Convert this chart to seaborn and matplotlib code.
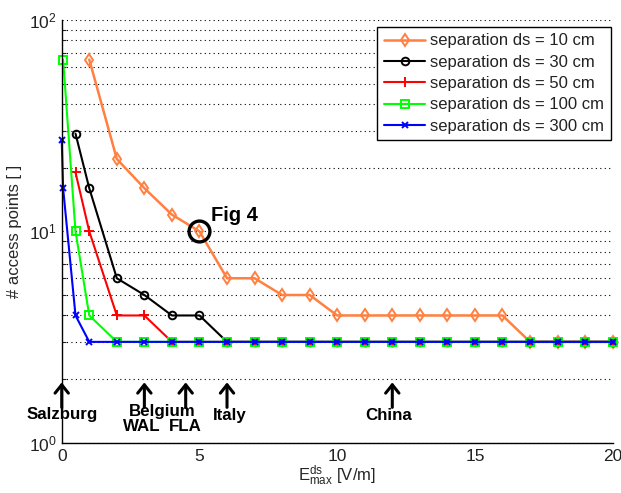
import matplotlib
matplotlib.use("Agg")
import matplotlib.pyplot as plt
import seaborn as sns
import numpy as np

# Maximum field strength E_max^ds [V/m] for each separation, and the
# number of access points needed to stay under that limit.
E_10 = [1, 2, 3, 4, 5, 6, 7, 8, 9, 10, 11, 12, 13, 14, 15, 16, 17, 18, 19, 20]
N_10 = [65, 22, 16, 12, 10, 6, 6, 5, 5, 4, 4, 4, 4, 4, 4, 4, 3, 3, 3, 3]

E_30 = [0.5, 1, 2, 3, 4, 5, 6, 7, 8, 9, 10, 11, 12, 13, 14, 15, 16, 17, 18, 19, 20]
N_30 = [29, 16, 6, 5, 4, 4, 3, 3, 3, 3, 3, 3, 3, 3, 3, 3, 3, 3, 3, 3, 3]

E_50 = [0.5, 1, 2, 3, 4, 5, 6, 7, 8, 9, 10, 11, 12, 13, 14, 15, 16, 17, 18, 19, 20]
N_50 = [19, 10, 4, 4, 3, 3, 3, 3, 3, 3, 3, 3, 3, 3, 3, 3, 3, 3, 3, 3, 3]

E_100 = [0.05, 0.5, 1, 2, 3, 4, 5, 6, 7, 8, 9, 10, 11, 12, 13, 14, 15, 16, 17, 18, 19, 20]
N_100 = [65, 10, 4, 3, 3, 3, 3, 3, 3, 3, 3, 3, 3, 3, 3, 3, 3, 3, 3, 3, 3, 3]

E_300 = [0.0, 0.05, 0.5, 1, 2, 3, 4, 5, 6, 7, 8, 9, 10, 11, 12, 13, 14, 15, 16, 17, 18, 19, 20]
N_300 = [27, 16, 4, 3, 3, 3, 3, 3, 3, 3, 3, 3, 3, 3, 3, 3, 3, 3, 3, 3, 3, 3, 3]

series_labels = ["separation ds = 10 cm", "separation ds = 30 cm",
                 "separation ds = 50 cm", "separation ds = 100 cm",
                 "separation ds = 300 cm"]

# Country limits marked under the curves
limit_x = [0, 3, 4.5, 6, 12]
country_labels = [("Salzburg", 0.0, 1.36), ("Belgium", 3.65, 1.41),
                  ("WAL", 2.92, 1.19), ("FLA", 4.47, 1.19),
                  ("Italy", 6.1, 1.34), ("China", 11.87, 1.34)]

sns.set_style("white")
plt.rcParams["font.family"] = ["Liberation Sans", "DejaVu Sans"]
plt.rcParams["mathtext.fontset"] = "custom"
plt.rcParams["mathtext.rm"] = "Liberation Sans"
plt.rcParams["mathtext.it"] = "Liberation Sans:italic"
plt.rcParams["mathtext.bf"] = "Liberation Sans:bold"

fig = plt.figure(figsize=(6.21, 4.93), dpi=100)
ax = fig.add_axes([0.0994, 0.102, 0.8872, 0.8574])

styles = [
    (E_10, N_10, "#ff8040", "d", 6.0, 1.8),
    (E_30, N_30, "#000000", "o", 5.5, 1.5),
    (E_50, N_50, "#ff0000", "+", 7.5, 1.5),
    (E_100, N_100, "#00ff00", "s", 6.0, 1.5),
    (E_300, N_300, "#0000ff", "x", 4.5, 1.5),
]
for (xs, ys, col, mk, ms, lw), lab in zip(styles, series_labels):
    sns.lineplot(x=xs, y=ys, color=col, marker=mk, markersize=ms,
                 markerfacecolor="none", markeredgecolor=col,
                 markeredgewidth=1.4, linewidth=lw, label=lab,
                 estimator=None, sort=False, clip_on=False, ax=ax)

ax.set_yscale("log")
ax.set_xlim(0, 20)
ax.set_ylim(1, 100)
ax.set_xticks([0, 5, 10, 15, 20])

for side in ("top", "right"):
    ax.spines[side].set_visible(False)
for side in ("left", "bottom"):
    ax.spines[side].set_color("k")
    ax.spines[side].set_linewidth(1.0)

ax.yaxis.grid(True, which="both", linestyle=(0, (1, 3)), color="k",
              linewidth=0.8)
ax.xaxis.grid(False)
ax.set_axisbelow(True)

ax.tick_params(axis="both", which="major", direction="in", length=5,
               width=0.8, colors="k", labelsize=12.5, labelcolor="#222222")
ax.tick_params(axis="x", pad=4.5)
ax.tick_params(axis="y", pad=3.5)
ax.tick_params(axis="y", which="minor", direction="in", length=3,
               width=0.8, left=True)
ax.tick_params(axis="x", which="minor", bottom=False)

ax.set_ylabel("# access points [ ]", fontsize=12, labelpad=5)
ax.set_xlabel(r"E$_{\rm max}^{\rm ds}$ [V/m]", fontsize=12, labelpad=0)

# Arrows pointing at each country's limit
for xv in limit_x:
    ax.annotate("", xy=(xv, 1.93), xytext=(xv, 1.47),
                arrowprops=dict(arrowstyle="->,head_width=0.4,head_length=0.5",
                                lw=2.2, color="k", mutation_scale=12,
                                shrinkA=0, shrinkB=0))
for txt, xv, yv in country_labels:
    ax.text(xv, yv, txt, ha="center", va="center", fontsize=12.2,
            fontweight="bold", color="k")

# Highlighted configuration
ax.plot(5, 10, marker="o", markersize=15, markerfacecolor="none",
        markeredgecolor="k", markeredgewidth=2.4, linestyle="none")
ax.text(5.42, 11.9, "Fig 4", ha="left", va="center", fontsize=14.5,
        fontweight="bold", color="k")

leg = ax.legend(loc="upper right", bbox_to_anchor=(0.997, 0.984),
                borderaxespad=0, fontsize=12, handlelength=2.5,
                handletextpad=0.3, labelspacing=0.38, borderpad=0.4,
                fancybox=False, framealpha=1, edgecolor="k")
leg.get_frame().set_linewidth(1.0)
for t in leg.get_texts():
    t.set_color("#222222")

fig.savefig("out.png", dpi=100)
